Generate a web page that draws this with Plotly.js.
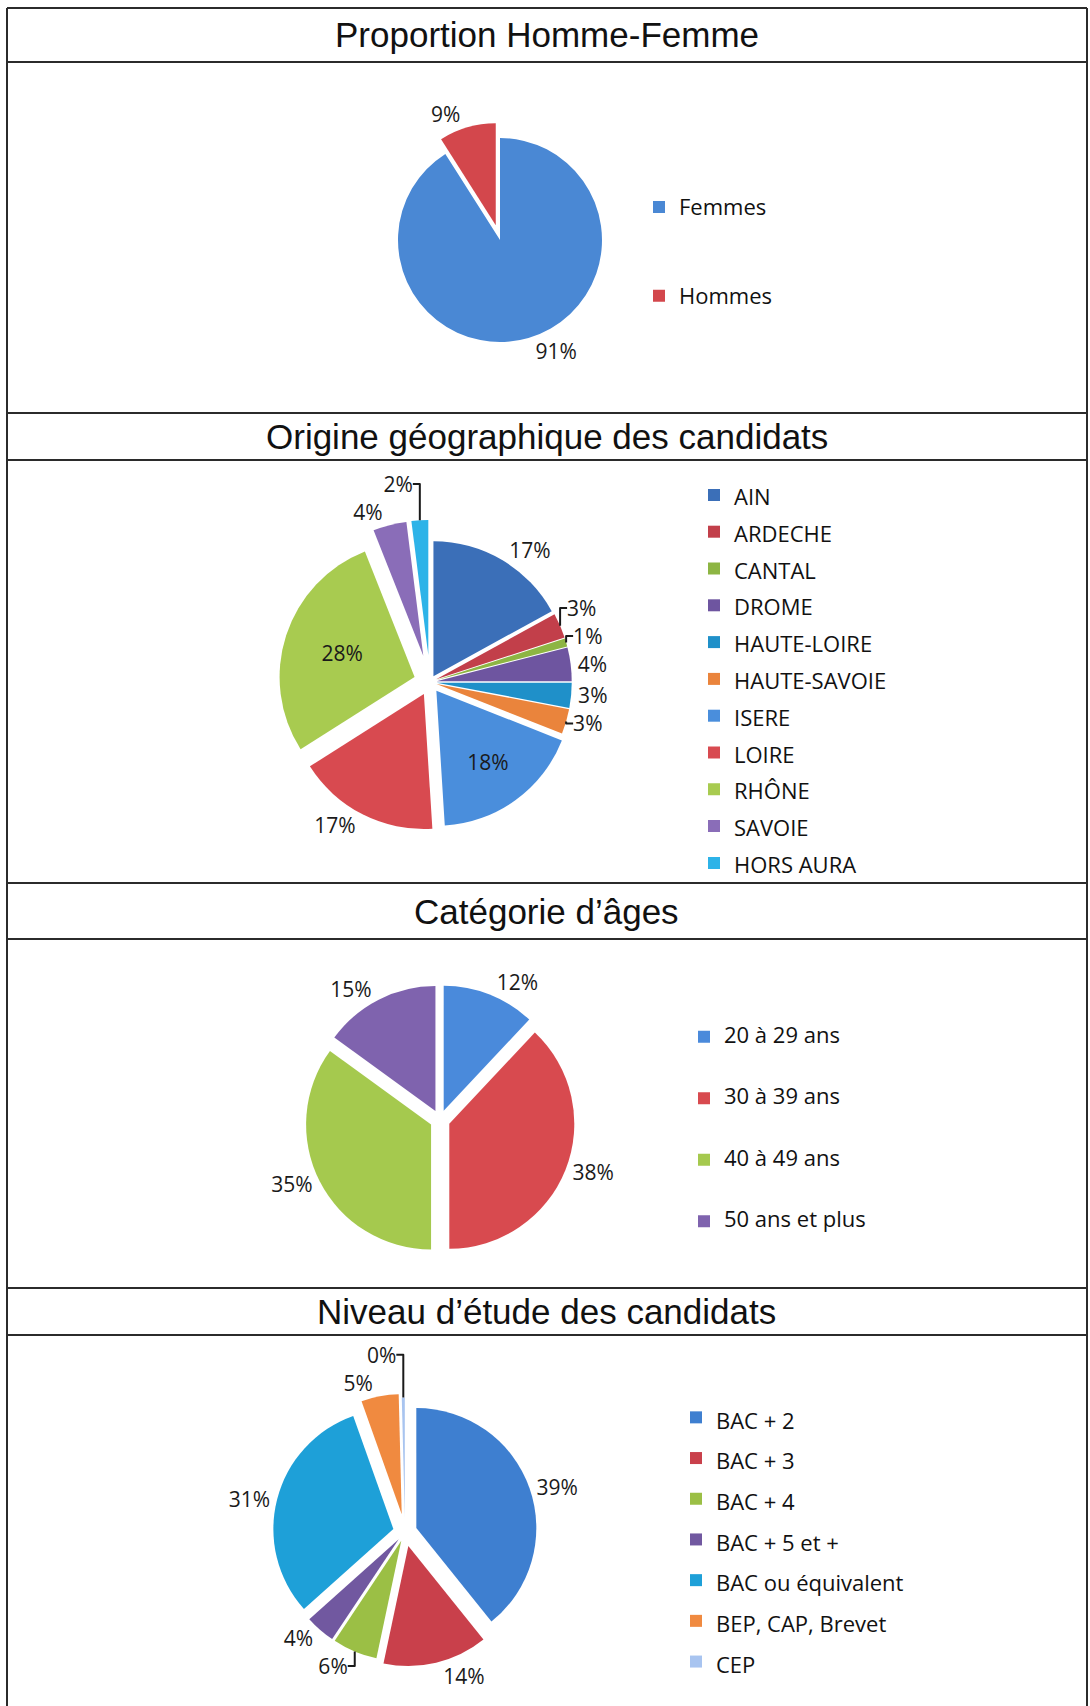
<!DOCTYPE html>
<html>
<head>
<meta charset="utf-8">
<script src="https://cdn.plot.ly/plotly-3.0.1.min.js"></script>
<style>html,body{margin:0;padding:0;background:#fff;}</style>
</head>
<body>
<div id="chart" style="width:1090px;height:1706px;"></div>
<script>
// ---------- DATA ----------
const titles = ['Proportion Homme-Femme', 'Origine géographique des candidats', 'Catégorie d’âges', 'Niveau d’étude des candidats'];

const sexeLabels = ['Femmes', 'Hommes'];
const sexeValues = [91, 9];
const sexeColors = ['#4A88D4', '#D3474C'];

const origineLabels = ['AIN', 'ARDECHE', 'CANTAL', 'DROME', 'HAUTE-LOIRE', 'HAUTE-SAVOIE', 'ISERE', 'LOIRE', 'RHÔNE', 'SAVOIE', 'HORS AURA'];
const origineValues = [17, 3, 1, 4, 3, 3, 18, 17, 28, 4, 2];
const origineColors = ['#3B6FB8', '#C23F4A', '#8DB543', '#6E55A0', '#1F90C9', '#EA843C', '#4A8EDC', '#D84A50', '#A8CB50', '#8A6DB8', '#2DB3E8'];

const ageLabels = ['20 à 29 ans', '30 à 39 ans', '40 à 49 ans', '50 ans et plus'];
const ageValues = [12, 38, 35, 15];
const ageColors = ['#4A8ADB', '#D84A4F', '#A5C94E', '#7F63AE'];

const etudeLabels = ['BAC + 2', 'BAC + 3', 'BAC + 4', 'BAC + 5 et +', 'BAC ou équivalent', 'BEP, CAP, Brevet', 'CEP'];
const etudeValues = [39, 14, 6, 4, 31, 5, 0.4];
const etudeColors = ['#3E7FD0', '#C9404B', '#9BBF45', '#7158A0', '#1EA0D8', '#F08A40', '#A8C4F0'];

// ---------- LAYOUT HELPERS ----------
const W = 1090, H = 1706;
const px = x => x / W;
const py = y => 1 - y / H;
function dom(cx, cy, half) {
  return { x: [px(cx - half), px(cx + half)], y: [py(cy + half), py(cy - half)] };
}
const one = l => '<span style="font-size:22px">' + l + '</span>';
const three = l => ' <br><span style="font-size:22px">' + l + '</span><br> ';

const pctFont = { family: 'Open Sans, sans-serif', size: 21, color: '#1a1a1a' };

function pie(labels, values, colors, wrap, domain, pull, legend, textpos) {
  return {
    type: 'pie',
    labels: labels.map(wrap),
    values: values,
    marker: { colors: colors, line: { width: 0 } },
    sort: false,
    direction: 'clockwise',
    rotation: 0,
    pull: pull,
    domain: domain,
    texttemplate: '%{percent:.0%}',
    textposition: textpos,
    insidetextorientation: 'horizontal',
    textfont: pctFont,
    insidetextfont: pctFont,
    outsidetextfont: pctFont,
    hoverinfo: 'none',
    legend: legend,
    showlegend: true
  };
}

const data = [
  pie(sexeLabels, sexeValues, sexeColors, three, dom(500, 240, 102 * 1.15), [0, 0.15], 'legend', 'outside'),
  pie(origineLabels, origineValues, origineColors, one, dom(430, 682, 135 * 1.2),
      [0.05, 0.05, 0.05, 0.05, 0.05, 0.05, 0.08, 0.1, 0.12, 0.2, 0.2], 'legend2',
      ['outside', 'outside', 'outside', 'outside', 'outside', 'outside', 'inside', 'outside', 'inside', 'outside', 'outside']),
  pie(ageLabels, ageValues, ageColors, three, dom(440, 1120, 125 * 1.08), [0.08, 0.08, 0.08, 0.08], 'legend3', 'outside'),
  pie(etudeLabels, etudeValues, etudeColors, one, dom(405, 1532, 120 * 1.15),
      [0.1, 0.12, 0.08, 0.08, 0.1, 0.15, 0.12], 'legend4', 'outside')
];

function leg(xLeft, yMid, size) {
  return {
    x: px(xLeft), xanchor: 'left', y: py(yMid), yanchor: 'middle',
    font: { family: 'Open Sans, sans-serif', size: size, color: '#111' },
    bgcolor: 'rgba(0,0,0,0)', borderwidth: 0, traceorder: 'normal'
  };
}

const lineColor = '#2b2b2b';
const hLines = [8, 62, 413, 460, 883, 939, 1288, 1335];
const shapes = hLines.map(y => ({
  type: 'line', xref: 'paper', yref: 'paper', x0: px(7), x1: px(1087), y0: py(y), y1: py(y),
  line: { color: lineColor, width: 2 }
})).concat([7, 1087].map(x => ({
  type: 'line', xref: 'paper', yref: 'paper', x0: px(x), x1: px(x), y0: py(8), y1: py(1706),
  line: { color: lineColor, width: 2 }
})));

const titleY = [35, 436.5, 911, 1311.5];
const annotations = titles.map((t, i) => ({
  text: t, xref: 'paper', yref: 'paper', x: px(547), y: py(titleY[i]),
  xanchor: 'center', yanchor: 'middle', showarrow: false,
  font: { family: 'Liberation Sans, Arial, sans-serif', size: 35, color: '#111' }
}));

const layout = {
  width: W, height: H,
  margin: { l: 0, r: 0, t: 0, b: 0 },
  paper_bgcolor: '#ffffff',
  plot_bgcolor: '#ffffff',
  showlegend: true,
  legend: leg(639, 251.5, 22),
  legend2: leg(694, 679, 26),
  legend3: leg(684, 1129, 15),
  legend4: leg(676, 1539.5, 29),
  shapes: shapes,
  annotations: annotations
};

Plotly.newPlot('chart', data, layout, { staticPlot: true, displayModeBar: false });
</script>
</body>
</html>
